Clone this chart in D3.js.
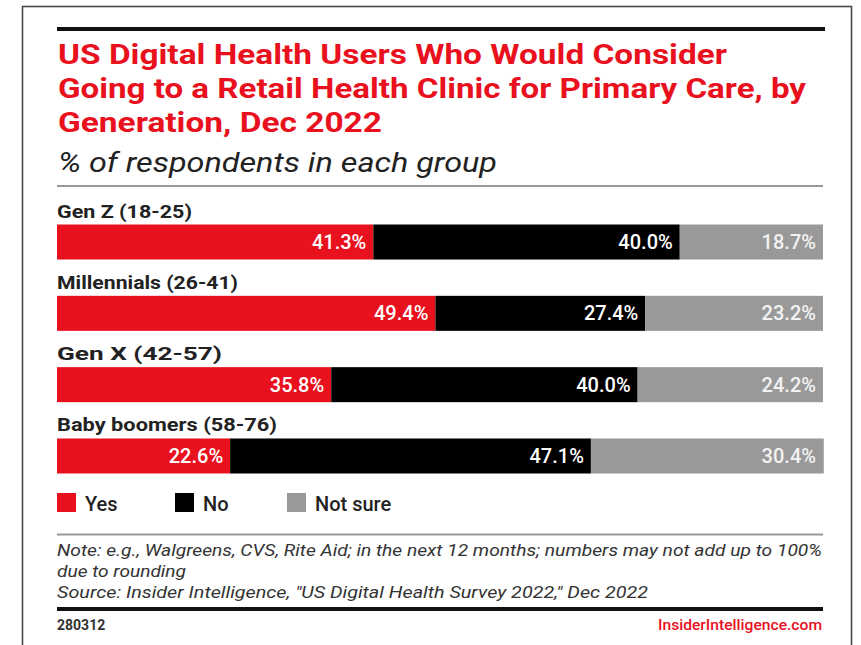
<!DOCTYPE html>
<html>
<head>
<meta charset="utf-8">
<script src="https://cdn.jsdelivr.net/npm/d3@7"></script>
<style>
  html, body { margin: 0; padding: 0; background: #fff; }
  svg { display: block; }
</style>
</head>
<body>
<svg id="chart" width="861" height="645"></svg>
<script>
// Survey groups and answer shares (%)
const categories = ["Gen Z (18-25)", "Millennials (26-41)", "Gen X (42-57)", "Baby boomers (58-76)"];
const seriesNames = ["Yes", "No", "Not sure"];
const yesValues = [41.3, 49.4, 35.8, 22.6];
const noValues = [40.0, 27.4, 40.0, 47.1];
const notSureValues = [18.7, 23.2, 24.2, 30.4];
const seriesColors = ["#e8111d", "#000000", "#999999"];

const titleLines = [
  "US Digital Health Users Who Would Consider",
  "Going to a Retail Health Clinic for Primary Care, by",
  "Generation, Dec 2022"
];
const subtitle = "% of respondents in each group";
const noteLines = [
  "Note: e.g., Walgreens, CVS, Rite Aid; in the next 12 months; numbers may not add up to 100%",
  "due to rounding",
  "Source: Insider Intelligence, \"US Digital Health Survey 2022,\" Dec 2022"
];
const chartId = "280312";
const brand = "InsiderIntelligence.com";

const FONT = "Roboto, 'Noto Sans', 'DejaVu Sans', sans-serif";
const svg = d3.select("#chart");

// build table of stacked rows
const rows = categories.map((c, i) => ({
  category: c,
  Yes: yesValues[i],
  No: noValues[i],
  "Not sure": notSureValues[i]
}));
const stacked = d3.stack().keys(seriesNames)(rows);

const left = 57, right = 823;
const x = d3.scaleLinear().domain([0, 100]).range([left, right]);
const y = d3.scaleBand().domain(categories).range([224.5, 473.5]).paddingInner(0.509);
const color = d3.scaleOrdinal().domain(seriesNames).range(seriesColors);

// outer frame
svg.append("rect")
  .attr("x", 22.5).attr("y", 6.5)
  .attr("width", 829).attr("height", 660)
  .attr("fill", "none").attr("stroke", "#4a4a4a").attr("stroke-width", 1.6);

// rules
svg.append("rect").attr("x", left).attr("y", 27).attr("width", right - left + 2).attr("height", 4).attr("fill", "#111");
svg.append("rect").attr("x", left).attr("y", 185).attr("width", right - left).attr("height", 2).attr("fill", "#999");
svg.append("rect").attr("x", left).attr("y", 533.5).attr("width", right - left).attr("height", 2).attr("fill", "#999");
svg.append("rect").attr("x", left).attr("y", 607).attr("width", right - left).attr("height", 4).attr("fill", "#111");

// helper: stretch a text to a given width
function fit(sel, w) {
  sel.attr("textLength", w).attr("lengthAdjust", "spacingAndGlyphs");
}

// title
const titleWidths = [669, 748, 324];
const titleBase = [63.5, 98, 132];
titleLines.forEach((t, i) => {
  svg.append("text")
    .attr("x", 58).attr("y", titleBase[i])
    .attr("font-family", FONT).attr("font-weight", 700).attr("font-size", 28)
    .attr("fill", "#e8111d")
    .text(t)
    .call(fit, titleWidths[i]);
});

svg.append("text")
  .attr("x", 58).attr("y", 171.5)
  .attr("font-family", FONT).attr("font-style", "italic").attr("font-weight", 400).attr("font-size", 27)
  .attr("fill", "#222")
  .text(subtitle)
  .call(fit, 439);

// category labels
const catWidths = [135, 181, 165, 220];
svg.selectAll("text.cat").data(categories).join("text")
  .attr("class", "cat")
  .attr("x", left)
  .attr("y", d => y(d) - 7)
  .attr("font-family", FONT).attr("font-weight", 700).attr("font-size", 19)
  .attr("fill", "#222")
  .text(d => d)
  .each(function(d, i) { d3.select(this).call(fit, catWidths[i]); });

// bar segments
const layer = svg.selectAll("g.layer").data(stacked).join("g")
  .attr("class", "layer")
  .attr("fill", d => color(d.key));

layer.selectAll("rect").data(d => d).join("rect")
  .attr("x", d => x(d[0]))
  .attr("y", d => y(d.data.category))
  .attr("width", d => x(d[1]) - x(d[0]))
  .attr("height", y.bandwidth());

// value labels, right-aligned inside each segment
const labelLayer = svg.selectAll("g.labels").data(stacked).join("g").attr("class", "labels");
labelLayer.selectAll("text").data(d => d.map(v => ({ v, key: d.key }))).join("text")
  .attr("x", d => Math.min(x(d.v[1]), right) - 7)
  .attr("y", d => y(d.v.data.category) + 24.5)
  .attr("text-anchor", "end")
  .attr("font-family", FONT).attr("font-weight", 500).attr("font-size", 20)
  .attr("fill", d => d.key === "Not sure" ? "#f2f2f2" : "#fff")
  .text(d => d.v.data[d.key].toFixed(1) + "%");

// legend
const legendX = [57, 175, 287];
const legend = svg.selectAll("g.legend").data(seriesNames).join("g")
  .attr("class", "legend")
  .attr("transform", (d, i) => `translate(${legendX[i]},493)`);
legend.append("rect").attr("width", 19).attr("height", 19).attr("fill", d => color(d));
legend.append("text")
  .attr("x", 28).attr("y", 17.5)
  .attr("font-family", FONT).attr("font-weight", 500).attr("font-size", 20)
  .attr("fill", "#222")
  .text(d => d);

// notes and source
const noteWidths = [765, 129, 591];
const noteBase = [556, 577, 598];
noteLines.forEach((t, i) => {
  svg.append("text")
    .attr("x", 57).attr("y", noteBase[i])
    .attr("font-family", FONT).attr("font-style", "italic").attr("font-weight", 400).attr("font-size", 17)
    .attr("fill", "#333")
    .text(t)
    .call(fit, noteWidths[i]);
});

// footer
svg.append("text")
  .attr("x", 57).attr("y", 630)
  .attr("font-family", FONT).attr("font-weight", 700).attr("font-size", 14)
  .attr("fill", "#333")
  .text(chartId);
svg.append("text")
  .attr("x", right - 1).attr("y", 630)
  .attr("text-anchor", "end")
  .attr("font-family", FONT).attr("font-weight", 500).attr("font-size", 14.5)
  .attr("fill", "#e8111d")
  .text(brand)
  .call(fit, 164);
</script>
</body>
</html>
